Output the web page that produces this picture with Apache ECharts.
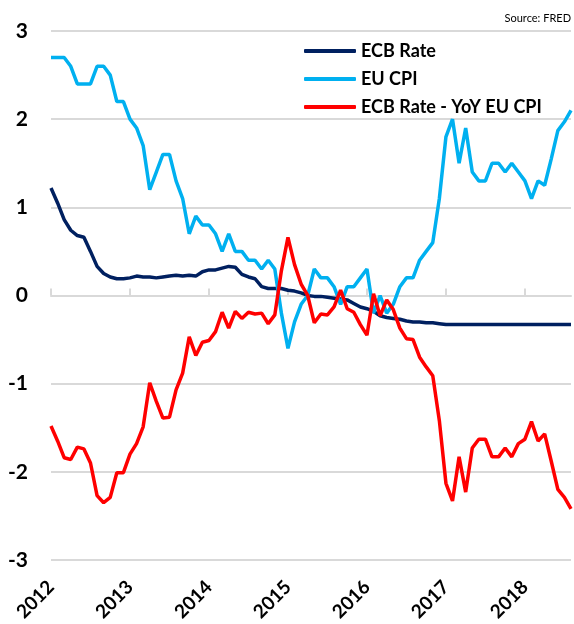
<!DOCTYPE html>
<html>
<head>
<meta charset="utf-8">
<script src="https://cdn.jsdelivr.net/npm/echarts@6/dist/echarts.min.js"></script>
<style>
  html, body { margin: 0; padding: 0; background: #fff; }
  #chart { width: 574px; height: 624px; }
</style>
</head>
<body>
<div id="chart"></div>
<script>
// ECB rate vs EU CPI, monthly Jan 2012 - Aug 2018
const years = ['2012', '2013', '2014', '2015', '2016', '2017', '2018']
const monthsInLastYear = 8

const ecbRate = [
    1.22, 1.05, 0.86, 0.74, 0.68, 0.66, 0.50, 0.33, 0.25, 0.21, 0.19, 0.19,
    0.20, 0.22, 0.21, 0.21, 0.20, 0.21, 0.22, 0.23, 0.22, 0.23, 0.22, 0.27,
    0.29, 0.29, 0.31, 0.33, 0.32, 0.24, 0.21, 0.19, 0.10, 0.08, 0.08, 0.08,
    0.06, 0.05, 0.03, 0.00, -0.01, -0.01, -0.02, -0.03, -0.04, -0.05, -0.09, -0.13,
    -0.15, -0.18, -0.23, -0.25, -0.26, -0.27, -0.29, -0.30, -0.30, -0.31, -0.31, -0.32,
    -0.33, -0.33, -0.33, -0.33, -0.33, -0.33, -0.33, -0.33, -0.33, -0.33, -0.33, -0.33,
    -0.33, -0.33, -0.33, -0.33, -0.33, -0.33, -0.33, -0.33,
]
const euCpi = [
    2.7, 2.7, 2.7, 2.6, 2.4, 2.4, 2.4, 2.6, 2.6, 2.5, 2.2, 2.2,
    2.0, 1.9, 1.7, 1.2, 1.4, 1.6, 1.6, 1.3, 1.1, 0.7, 0.9, 0.8,
    0.8, 0.7, 0.5, 0.7, 0.5, 0.5, 0.4, 0.4, 0.3, 0.4, 0.3, -0.2,
    -0.6, -0.3, -0.1, 0.0, 0.3, 0.2, 0.2, 0.1, -0.1, 0.1, 0.1, 0.2,
    0.3, -0.2, 0.0, -0.2, -0.1, 0.1, 0.2, 0.2, 0.4, 0.5, 0.6, 1.1,
    1.8, 2.0, 1.5, 1.9, 1.4, 1.3, 1.3, 1.5, 1.5, 1.4, 1.5, 1.4,
    1.3, 1.1, 1.3, 1.25, 1.55, 1.87, 1.97, 2.1,
]
const rateMinusCpi = [
    -1.48, -1.65, -1.84, -1.86, -1.72, -1.74, -1.90, -2.27, -2.35, -2.29, -2.01, -2.01,
    -1.80, -1.68, -1.49, -0.99, -1.20, -1.39, -1.38, -1.07, -0.88, -0.47, -0.68, -0.53,
    -0.51, -0.41, -0.19, -0.37, -0.18, -0.26, -0.19, -0.21, -0.20, -0.32, -0.22, 0.28,
    0.66, 0.35, 0.13, 0.00, -0.31, -0.21, -0.22, -0.13, 0.06, -0.15, -0.19, -0.33,
    -0.45, 0.02, -0.23, -0.05, -0.16, -0.37, -0.49, -0.50, -0.70, -0.81, -0.91, -1.42,
    -2.13, -2.33, -1.83, -2.23, -1.73, -1.63, -1.63, -1.83, -1.83, -1.73, -1.83, -1.68,
    -1.63, -1.43, -1.65, -1.57, -1.88, -2.20, -2.29, -2.42,
]
const yTicks = { min: -3, max: 3, interval: 1 }

// month categories like "2012-01"
const months = []
years.forEach((y, i) => {
    const n = i === years.length - 1 ? monthsInLastYear : 12
    for (let m = 1; m <= n; m++) months.push(y + '-' + String(m).padStart(2, '0'))
})

const font = 'Lato, "Open Sans", sans-serif'
const gridGrey = '#d9d9d9'

const chart = echarts.init(document.getElementById('chart'))
const option = {
    animation: false,
    textStyle: { fontFamily: font },
    grid: { left: 51, right: 3, top: 31, bottom: 63, containLabel: false },
    graphic: [
        {
            type: 'text',
            right: 3,
            top: 13,
            style: { text: 'Source: FRED', fontSize: 11, fill: '#000', fontFamily: font },
        },
    ],
    legend: {
        orient: 'vertical',
        left: 299,
        top: 37,
        icon: 'roundRect',
        itemWidth: 52,
        itemHeight: 4,
        itemGap: 10,
        textStyle: { fontSize: 18, fontWeight: 'bold', color: '#000', lineHeight: 18 },
        data: ['ECB Rate', 'EU CPI', 'ECB Rate - YoY EU CPI'],
    },
    xAxis: [
        {
            type: 'category',
            data: months,
            boundaryGap: false,
            axisLine: { show: false, onZero: false },
            axisTick: { show: false },
            splitLine: { show: false },
            axisLabel: {
                interval: 11,
                rotate: 45,
                margin: 24,
                fontSize: 19,
                fontWeight: 'bold',
                color: '#000',
                formatter: (v) => v.slice(0, 4),
            },
        },
        {
            type: 'category',
            data: months,
            boundaryGap: false,
            axisLine: { show: true, onZero: true, onZeroAxisIndex: 0, lineStyle: { color: gridGrey, width: 2 } },
            axisTick: { show: true, interval: 11, length: 7, lineStyle: { color: gridGrey, width: 2 } },
            axisLabel: { show: false },
            splitLine: { show: false },
        },
    ],
    yAxis: {
        type: 'value',
        min: yTicks.min,
        max: yTicks.max,
        interval: yTicks.interval,
        axisLine: { show: false },
        axisTick: { show: false },
        axisLabel: { fontSize: 21, fontWeight: 'bold', color: '#000', margin: 23 },
        splitLine: { lineStyle: { color: gridGrey, width: 2 } },
    },
    series: [
        {
            name: 'ECB Rate',
            type: 'line',
            data: ecbRate,
            showSymbol: false,
            symbol: 'none',
            lineStyle: { width: 3.5, color: '#002060' },
            itemStyle: { color: '#002060' },
        },
        {
            name: 'EU CPI',
            type: 'line',
            data: euCpi,
            showSymbol: false,
            symbol: 'none',
            lineStyle: { width: 3.5, color: '#00b0f0' },
            itemStyle: { color: '#00b0f0' },
        },
        {
            name: 'ECB Rate - YoY EU CPI',
            type: 'line',
            data: rateMinusCpi,
            showSymbol: false,
            symbol: 'none',
            lineStyle: { width: 3.5, color: '#ff0000' },
            itemStyle: { color: '#ff0000' },
        },
    ],
}
chart.setOption(option)
window.addEventListener('resize', () => chart.resize())
</script>
</body>
</html>
